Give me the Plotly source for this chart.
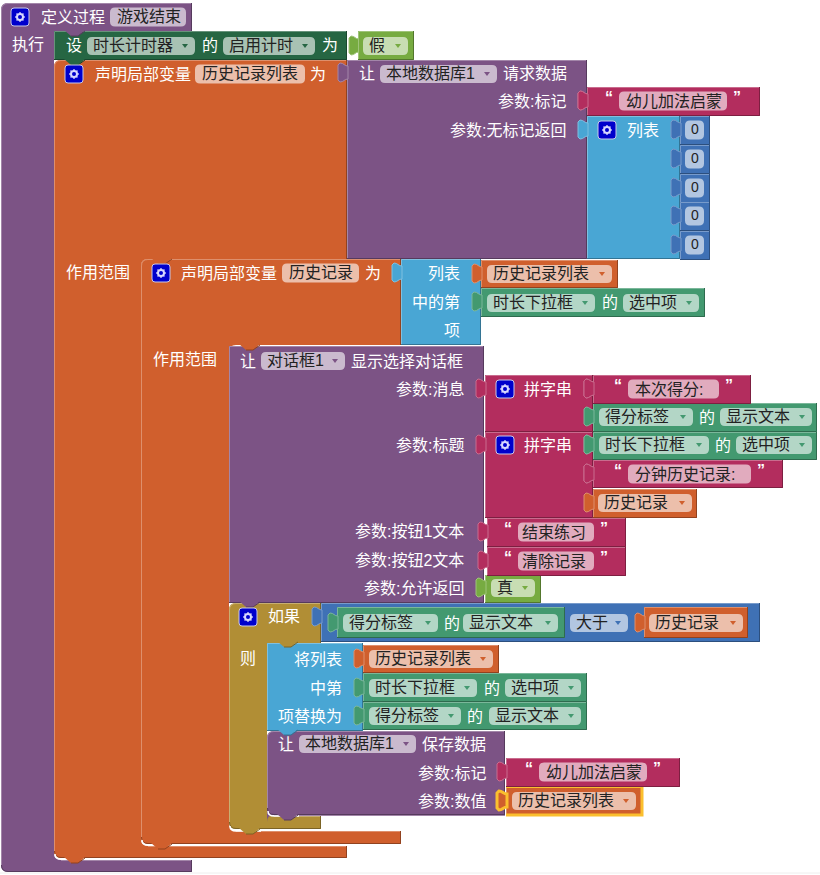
import math
import plotly.graph_objects as go

# block colours
PURPLE = "#7C5385"
ORANGE = "#D05F2D"
MAGENTA = "#B32D5E"
SKY = "#49A6D4"
NAVY = "#3F71B5"
FOREST = "#266643"
GREEN = "#439970"
LIME = "#77AB41"
GOLD = "#B18E35"
ICON = "#0000CC"
FONT = "Liberation Sans, Noto Sans CJK SC, sans-serif"
FS = 16

# block text
white_labels = ["定义过程", "执行", "设", "的", "为", "声明局部变量", "为", "让", "请求数据",
                "列表", "作用范围", "声明局部变量", "为", "作用范围", "列表", "中的第", "项",
                "的", "让", "显示选择对话框", "拼字串", "拼字串", "的", "的", "如果", "则",
                "的", "将列表", "中第", "项替换为", "的", "的", "让", "保存数据"]
white_slots = [(41, 17, "left"), (12, 44, "left"), (66, 45, "left"), (202, 45, "left"), (322, 45, "left"),
               (95, 74, "left"), (310, 74, "left"), (359, 73, "left"), (503, 73, "left"),
               (627, 130, "left"), (66, 272, "left"), (181, 273, "left"), (365, 273, "left"), (153, 359, "left"),
               (460, 273, "right"), (460, 302, "right"), (460, 330, "right"),
               (602, 302, "left"), (240, 361, "left"), (351, 361, "left"), (524, 389, "left"), (524, 445, "left"),
               (699, 417, "left"), (715, 445, "left"), (268, 616, "left"), (240, 658, "left"),
               (444, 623, "left"), (342, 659, "right"), (342, 688, "right"), (342, 716, "right"),
               (484, 688, "left"), (467, 716, "left"), (278, 744, "left"), (422, 744, "left")]

param_labels = ["参数:标记", "参数:无标记返回", "参数:消息", "参数:标题", "参数:按钮1文本",
                "参数:按钮2文本", "参数:允许返回", "参数:标记", "参数:数值"]
param_slots = [(566, 101), (566, 130), (464, 389), (464, 445), (464, 531),
               (464, 560), (464, 588), (486, 773), (486, 801)]

plain_fields = ["游戏结束", "历史记录列表", "历史记录"]
plain_slots = [(110, 186, 17), (195, 305, 74), (282, 359, 273)]

dropdown_labels = ["时长计时器", "启用计时", "假", "本地数据库1", "历史记录列表", "时长下拉框", "选中项",
                   "对话框1", "得分标签", "显示文本", "时长下拉框", "选中项", "历史记录", "真",
                   "得分标签", "显示文本", "大于", "历史记录", "历史记录列表", "时长下拉框", "选中项",
                   "得分标签", "显示文本", "本地数据库1", "历史记录列表"]
dropdown_slots = [(87, 195, 46, FOREST), (223, 315, 46, FOREST), (363, 408, 46, LIME), (380, 497, 74, PURPLE),
                  (487, 612, 274, ORANGE), (487, 595, 303, GREEN), (623, 699, 303, GREEN),
                  (261, 345, 361, PURPLE), (599, 693, 417, GREEN), (720, 812, 417, GREEN),
                  (599, 709, 445, GREEN), (736, 812, 445, GREEN), (598, 692, 503, ORANGE), (491, 535, 588, LIME),
                  (343, 438, 623, GREEN), (463, 558, 623, GREEN), (570, 628, 623, NAVY), (649, 743, 623, ORANGE),
                  (369, 493, 659, ORANGE), (369, 477, 688, GREEN), (505, 581, 688, GREEN),
                  (369, 461, 716, GREEN), (489, 581, 716, GREEN), (299, 416, 744, PURPLE), (512, 636, 801, ORANGE)]

string_values = ["幼儿加法启蒙", "本次得分:", "分钟历史记录:", "结束练习", "清除记录", "幼儿加法启蒙"]
string_slots = [(587, 760, 87, 619, 727), (593, 751, 375, 628, 719), (593, 783, 460, 628, 751),
                (487, 626, 518, 518, 594), (487, 626, 547, 518, 594), (506, 680, 758, 539, 647)]

number_values = [0, 0, 0, 0, 0]
number_tops = [116, 145, 174, 202, 231]

shapes = []
notes = []


def shade(color, amount):
    # amount > 0 goes to white, amount < 0 to black
    r, g, b = [int(color[i:i + 2], 16) for i in (1, 3, 5)]
    if amount > 0:
        r, g, b = [c + (255 - c) * amount for c in (r, g, b)]
    else:
        r, g, b = [c * (1 + amount) for c in (r, g, b)]
    return "rgb(%d,%d,%d)" % (r, g, b)


def path(d, fill=None, line=None, width=1):
    s = dict(type="path", xref="x", yref="y", path=d)
    if fill:
        s["fillcolor"] = fill
    s["line"] = dict(color=line or "rgba(0,0,0,0)", width=width if line else 0)
    shapes.append(s)


def rect(x0, y0, x1, y1, color):
    # plain block with a bevelled edge
    path(f"M{x0},{y0} L{x1},{y0} L{x1},{y1} L{x0},{y1} Z", fill=color)
    path(f"M{x0+.5},{y1} L{x0+.5},{y0+.5} L{x1},{y0+.5}", line=shade(color, .3))
    path(f"M{x1-.5},{y0} L{x1-.5},{y1-.5} L{x0},{y1-.5}", line=shade(color, -.3))


def wrap(x0, y0, xh, yh, xa, yi, xf, yb, color):
    # C shaped statement block: header down to yh, arm to xa, foot from yi to yb
    r = 7
    d = (f"M{x0},{y0+r} Q{x0},{y0} {x0+r},{y0} L{xh},{y0} L{xh},{yh} L{xa+r},{yh} Q{xa},{yh} {xa},{yh+r} "
         f"L{xa},{yi-r} Q{xa},{yi} {xa+r},{yi} L{xf},{yi} L{xf},{yb} L{x0+r},{yb} Q{x0},{yb} {x0},{yb-r} Z")
    path(d, fill=color)
    path(f"M{x0+.5},{yb-r} L{x0+.5},{y0+r} Q{x0+.5},{y0+.5} {x0+r},{y0+.5} L{xh},{y0+.5}", line=shade(color, .3))
    path(f"M{xa+r},{yi+.5} L{xf},{yi+.5}", line=shade(color, .3))
    path(f"M{xh-.5},{y0} L{xh-.5},{yh}", line=shade(color, -.3))
    path(f"M{xf-.5},{yi} L{xf-.5},{yb-.5} L{x0+r},{yb-.5} Q{x0+.5},{yb-.5} {x0+.5},{yb-r}", line=shade(color, -.3))


def bump(x, y, color):
    # statement connector that hangs below a block
    path(f"M{x+10},{y-1} L{x+17},{y+5} L{x+24},{y+5} L{x+31},{y-1} Z", fill=color)
    path(f"M{x+17},{y+5} L{x+24},{y+5} L{x+31},{y}", line=shade(color, -.3))


def foot_gap(x, y):
    # white sliver between a nested block's rounded corner and the foot under it
    path(f"M{x+1},{y-5} Q{x+1},{y} {x+7},{y} L{x+32},{y}", line="white", width=1.5)


def tab(x, cy, color, edge=None):
    d = (f"M{x+1},{cy-7} C{x-3},{cy-7} {x-3},{cy-10} {x-7},{cy-10} L{x-9},{cy-8} L{x-9},{cy+7} L{x-7},{cy+9} "
         f"C{x-3},{cy+9} {x-3},{cy+6} {x+1},{cy+6} Z")
    if edge:
        path(d, fill=color, line=edge, width=3)
    else:
        path(d, fill=color, line=shade(color, .3), width=1)


def pill(x0, x1, cy, h=9.5):
    r = 5
    y0, y1 = cy - h, cy + h
    d = (f"M{x0+r},{y0} L{x1-r},{y0} Q{x1},{y0} {x1},{y0+r} L{x1},{y1-r} Q{x1},{y1} {x1-r},{y1} "
         f"L{x0+r},{y1} Q{x0},{y1} {x0},{y1-r} L{x0},{y0+r} Q{x0},{y0} {x0+r},{y0} Z")
    path(d, fill="rgba(255,255,255,0.6)")


def text(x, y, s, color="white", anchor="left", size=FS):
    # annotations sit about a pixel inside their anchor
    x = x - 1.5 if anchor == "left" else x + 1 if anchor == "right" else x
    notes.append(dict(x=x, y=y, text=str(s), showarrow=False, xanchor=anchor, yanchor="middle", borderpad=0,
                      font=dict(family=FONT, size=size, color=color)))


def icon(cx, cy):
    d = 9
    path(f"M{cx-d+3},{cy-d} L{cx+d-3},{cy-d} Q{cx+d},{cy-d} {cx+d},{cy-d+3} L{cx+d},{cy+d-3} Q{cx+d},{cy+d} {cx+d-3},{cy+d} "
         f"L{cx-d+3},{cy+d} Q{cx-d},{cy+d} {cx-d},{cy+d-3} L{cx-d},{cy-d+3} Q{cx-d},{cy-d} {cx-d+3},{cy-d} Z",
         fill=ICON, line="#C8C8E8", width=1)
    for i in range(4):
        a = i * math.pi / 4
        dx, dy = 5 * math.cos(a), 5 * math.sin(a)
        path(f"M{cx-dx:.1f},{cy-dy:.1f} L{cx+dx:.1f},{cy+dy:.1f}", line="#B8B8F0", width=1.5)
    shapes.append(dict(type="circle", x0=cx - 4, x1=cx + 4, y0=cy - 4, y1=cy + 4, fillcolor="#D8D8FF", line_width=0))
    shapes.append(dict(type="circle", x0=cx - 2, x1=cx + 2, y0=cy - 2, y1=cy + 2, fillcolor=ICON, line_width=0))


# faint line along the bottom of the screenshot
path("M0,873 L820,873", line="#EEEEEE", width=1)

# outer blocks first, inner ones paint over them
wrap(1, 3, 192, 31, 54, 860, 192, 872, PURPLE)
rect(54, 31, 347, 60, FOREST)
tab(358, 46, LIME)
rect(358, 31, 414, 60, LIME)
bump(54, 31, PURPLE)

wrap(54, 60, 347, 259, 141, 846, 347, 858, ORANGE)
bump(54, 60, FOREST)
rect(347, 60, 587, 259, PURPLE)
tab(347, 73, PURPLE)
rect(587, 87, 760, 115, MAGENTA)
tab(587, 101, MAGENTA)
rect(587, 116, 680, 259, SKY)
tab(587, 130, SKY)
for top in number_tops:
    rect(680, top, 710, top + 29, NAVY)
    tab(680, top + 14, NAVY)

wrap(141, 259, 401, 345, 229, 831, 401, 844, ORANGE)
bump(141, 259, ORANGE)
rect(401, 259, 481, 345, SKY)
tab(401, 273, SKY)
rect(481, 260, 618, 288, ORANGE)
tab(481, 274, ORANGE)
rect(481, 288, 705, 317, GREEN)
tab(481, 302, GREEN)

rect(229, 346, 484, 603, PURPLE)
bump(229, 345, ORANGE)
rect(485, 375, 593, 432, MAGENTA)
tab(485, 389, MAGENTA)
rect(485, 432, 593, 518, MAGENTA)
tab(485, 445, MAGENTA)
for cy in (389, 445, 474):
    tab(593, cy, MAGENTA)
rect(593, 403, 817, 432, GREEN)
tab(593, 417, GREEN)
rect(593, 432, 817, 460, GREEN)
tab(593, 445, GREEN)
rect(593, 489, 697, 518, ORANGE)
tab(593, 503, ORANGE)
rect(485, 575, 541, 603, LIME)
tab(485, 588, LIME)

wrap(229, 603, 321, 643, 267, 816, 321, 829, GOLD)
bump(229, 602, PURPLE)
rect(321, 603, 760, 642, NAVY)
tab(321, 617, NAVY)
rect(337, 607, 565, 638, GREEN)
tab(337, 623, GREEN)
rect(644, 607, 748, 638, ORANGE)
tab(644, 623, ORANGE)
rect(267, 643, 363, 731, SKY)
bump(267, 642, GOLD)
rect(363, 645, 499, 673, ORANGE)
tab(363, 659, ORANGE)
rect(363, 673, 587, 702, GREEN)
tab(363, 688, GREEN)
rect(363, 702, 587, 730, GREEN)
tab(363, 716, GREEN)
wrap(267, 731, 505, 815, 267, 815, 505, 815, PURPLE)
bump(267, 730, SKY)

# white slivers first so the connectors sit over them
foot_gap(267, 816)
foot_gap(229, 831)
foot_gap(141, 845)
foot_gap(54, 859)
bump(267, 815, PURPLE)
bump(229, 829, GOLD)
bump(141, 844, ORANGE)
bump(54, 858, ORANGE)

rect(506, 787, 642, 815, ORANGE)
tab(506, 801, ORANGE, edge="#FBBF2E")
path("M506,786.5 L642,786.5 L642,815 L506,815", line="#FBBF2E", width=3)

for val, (x0, x1, top, f0, f1) in zip(string_values, string_slots):
    rect(x0, top, x1, top + 29 - (x0 == 593 and top == 460), MAGENTA)
    tab(x0, top + 14, MAGENTA)
    cy = top + 14
    pill(f0, f1, cy)
    text(f0 + 7 - 3 * (f0 == 518), cy, val, color="#222222")
    text(f0 - 10, cy - 4, "<b>“</b>", anchor="center")
    text(f1 + 10, cy - 4, "<b>”</b>", anchor="center")

for val, top in zip(number_values, number_tops):
    pill(685, 704, top + 14)
    text(694.5, top + 13, val, color="#222222", anchor="center", size=14)

for s, (x0, x1, cy) in zip(plain_fields, plain_slots):
    pill(x0, x1, cy)
    text(x0 + 7, cy - 1, s, color="#222222")

for s, (x0, x1, cy, col) in zip(dropdown_labels, dropdown_slots):
    pill(x0, x1, cy, h=9)
    text(x0 + 6, cy - 1, s, color="#222222")
    ax = x1 - 10
    path(f"M{ax-3},{cy-2} L{ax+3},{cy-2} L{ax},{cy+2} Z", fill=col)

for cx, cy in [(20, 17), (74, 74), (607, 130), (161, 273), (505, 389), (505, 445), (248, 617)]:
    icon(cx, cy)

for s, (x, y, anchor) in zip(white_labels, white_slots):
    text(x, y, s, anchor=anchor)
for s, (x, y) in zip(param_labels, param_slots):
    text(x, y, s, anchor="right")

fig = go.Figure()
fig.update_layout(width=820, height=875, margin=dict(l=0, r=0, t=0, b=0), paper_bgcolor="white", plot_bgcolor="white",
                  xaxis=dict(range=[0, 820], visible=False, fixedrange=True),
                  yaxis=dict(range=[875, 0], visible=False, fixedrange=True),
                  shapes=shapes, annotations=notes, showlegend=False)
fig.write_html("out.html", config=dict(displayModeBar=False), post_script="document.body.style.margin='0';document.body.style.overflow='hidden';")
